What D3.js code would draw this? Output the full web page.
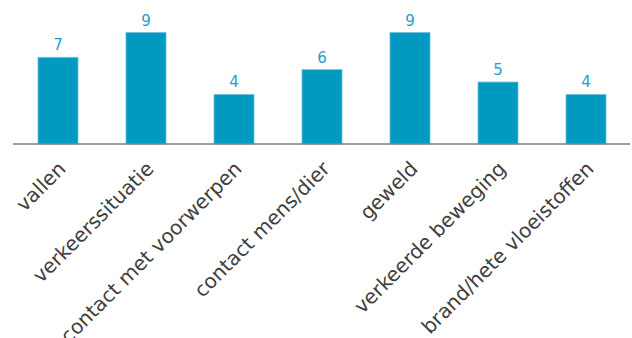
<!DOCTYPE html>
<html>
<head>
<meta charset="utf-8">
<script src="https://cdn.jsdelivr.net/npm/d3@7"></script>
<style>
  body { margin: 0; background: #fff; }
  svg { display: block; }
</style>
</head>
<body>
<script>
const width = 632
const height = 338

// categories and counts
const categories = [
  "vallen",
  "verkeerssituatie",
  "contact met voorwerpen",
  "contact mens/dier",
  "geweld",
  "verkeerde beweging",
  "brand/hete vloeistoffen"
];
const counts = [7, 9, 4, 6, 9, 5, 4];

const svg = d3
  .select("body")
  .append("svg")
  .attr("width", width)
  .attr("height", height);

const x = d3
  .scaleBand()
  .domain(categories)
  .range([14, 630])
  .paddingInner(0.545)
  .paddingOuter(0.2725);

const y = d3.scaleLinear().domain([0, 9]).range([144, 32.5]);

// bars
svg
  .selectAll(".bar")
  .data(categories)
  .enter()
  .append("rect")
  .attr("class", "bar")
  .attr("x", (d) => x(d))
  .attr("y", (d, i) => y(counts[i]))
  .attr("width", x.bandwidth())
  .attr("height", (d, i) => y(0) - y(counts[i]))
  .attr("fill", "#0099bf")
  .attr("stroke", "#6cc4dc")
  .attr("stroke-width", 0.8);

// value labels
svg
  .selectAll(".val")
  .data(categories)
  .enter()
  .append("text")
  .attr("class", "val")
  .attr("x", (d) => x(d) + x.bandwidth() / 2)
  .attr("y", (d, i) => y(counts[i]) - 7)
  .attr("text-anchor", "middle")
  .attr("font-family", "DejaVu Sans, Verdana, sans-serif")
  .attr("font-size", 15)
  .attr("fill", "#1ea0c8")
  .text((d, i) => counts[i]);

// x axis line
svg
  .append("line")
  .attr("x1", 13)
  .attr("x2", 630)
  .attr("y1", y(0))
  .attr("y2", y(0))
  .attr("stroke", "#7f7f7f")
  .attr("stroke-width", 1.5);

// rotated category labels (the long one runs off the bottom, as in the original)
svg
  .selectAll(".cat")
  .data(categories)
  .enter()
  .append("text")
  .attr("class", "cat")
  .attr("transform", (d) => {
    const cx = x(d) + x.bandwidth() / 2 + 9;
    const cy = y(0) + 26;
    return `translate(${cx},${cy}) rotate(-45)`;
  })
  .attr("text-anchor", "end")
  .attr("font-family", "DejaVu Sans, Verdana, sans-serif")
  .attr("font-size", 20)
  .attr("fill", "#404040")
  .text((d) => d);
</script>
</body>
</html>
